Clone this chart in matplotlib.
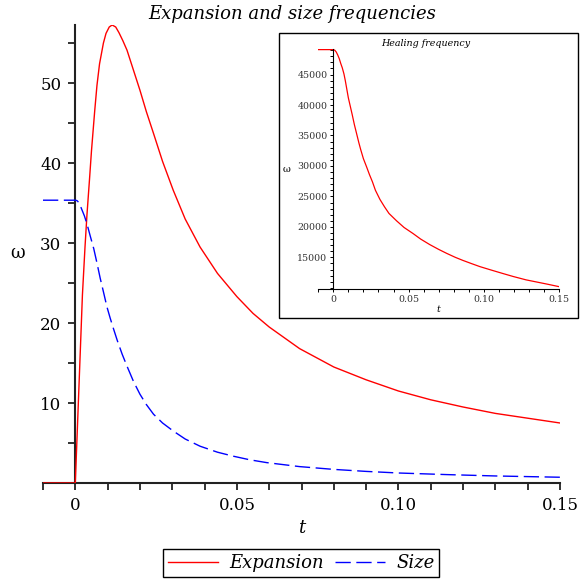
import numpy as np
import matplotlib.pyplot as plt
from matplotlib.patches import Rectangle
from matplotlib.ticker import MultipleLocator, FixedLocator

# expansion frequency (zero before t=0)
t_exp = [-0.01, 0.0, 0.0022, 0.003, 0.0036, 0.0044, 0.005, 0.006, 0.0067, 0.0075,
         0.0087, 0.0095, 0.0105, 0.0114, 0.0125, 0.0135, 0.0147, 0.016, 0.018, 0.020,
         0.022, 0.0242, 0.027, 0.0303, 0.034, 0.0386, 0.044, 0.05, 0.055, 0.060,
         0.0694, 0.080, 0.090, 0.100, 0.110, 0.120, 0.130, 0.140, 0.150]
w_exp = [0.0, 0.0, 23.5, 29.5, 33.5, 38.0, 41.5, 46.5, 49.7, 52.4,
         55.0, 56.2, 57.0, 57.25, 57.0, 56.3, 55.3, 54.1, 51.6, 49.1,
         46.4, 43.7, 40.2, 36.6, 33.0, 29.5, 26.2, 23.3, 21.2, 19.5,
         16.8, 14.5, 12.9, 11.5, 10.4, 9.5, 8.7, 8.1, 7.5]

# size frequency (constant before t=0)
t_size = [-0.01, 0.0, 0.0005, 0.001, 0.0015, 0.002, 0.0028, 0.0036, 0.0046, 0.0057,
          0.0067, 0.0077, 0.0087, 0.0098, 0.0108, 0.0118, 0.013, 0.0145, 0.016, 0.018,
          0.020, 0.022, 0.0242, 0.027, 0.0303, 0.034, 0.0386, 0.044, 0.0489, 0.054,
          0.0592, 0.0694, 0.08, 0.09, 0.10, 0.115, 0.13, 0.15]
w_size = [35.35, 35.35, 35.3, 35.1, 34.7, 34.2, 33.4, 32.4, 30.9, 29.3,
          27.5, 25.6, 23.9, 22.0, 20.6, 19.3, 17.8, 16.1, 14.6, 12.7,
          11.1, 9.8, 8.6, 7.5, 6.5, 5.5, 4.6, 3.85, 3.35, 2.9,
          2.55, 2.05, 1.7, 1.45, 1.25, 1.05, 0.88, 0.72]

# healing frequency (inset)
t_heal = [-0.01, 0.0, 0.001, 0.002, 0.003, 0.004, 0.005, 0.006, 0.0071, 0.008,
          0.009, 0.010, 0.0113, 0.0126, 0.014, 0.0155, 0.017, 0.0182, 0.020, 0.0222,
          0.024, 0.026, 0.028, 0.031, 0.034, 0.037, 0.042, 0.047, 0.053, 0.058,
          0.064, 0.070, 0.0753, 0.081, 0.086, 0.092, 0.0974, 0.105, 0.1125, 0.1195,
          0.128, 0.135, 0.142, 0.15]
w_heal = [49100, 49100, 49000, 48700, 48200, 47600, 46800, 46100, 45100, 44000,
          42600, 41200, 39800, 38400, 36800, 35300, 33800, 32700, 31200, 29800,
          28600, 27400, 26000, 24500, 23300, 22200, 21000, 19900, 18900, 18000,
          17100, 16300, 15650, 15000, 14500, 13950, 13470, 12900, 12350, 11850,
          11300, 10950, 10600, 10180]

W, H = 581, 580
serif = "DejaVu Serif"
axis_col = "#222222"

fig = plt.figure(figsize=(W/100, H/100), dpi=100)
plt.rcParams['font.family'] = serif

def fx(px):
    return px / W

def fy(py):
    return 1 - py / H

#main axes, crossing at the origin
ax = fig.add_axes([fx(43), fy(483), fx(560-43), (483-25)/H])
ax.plot(t_exp, w_exp, color="#ff0000", lw=1.0, label="Expansion", zorder=3)
ax.plot(t_size, w_size, color="#0000ff", lw=1.0, dashes=(11, 4), label="Size", zorder=3)
ax.set_xlim(-0.01, 0.15)
ax.set_ylim(0, 57.25)
for s in ["top", "right"]:
    ax.spines[s].set_visible(False)
ax.spines["left"].set_position(("data", 0))
ax.spines["bottom"].set_position(("data", 0))
for s in ["left", "bottom"]:
    ax.spines[s].set_linewidth(1.5)
    ax.spines[s].set_color(axis_col)
ax.xaxis.set_major_locator(FixedLocator([0, 0.05, 0.10, 0.15]))
ax.set_xticklabels(["0", "0.05", "0.10", "0.15"])
ax.xaxis.set_minor_locator(MultipleLocator(0.01))
ax.yaxis.set_major_locator(FixedLocator([10, 20, 30, 40, 50]))
ax.yaxis.set_minor_locator(MultipleLocator(5))
ax.tick_params(axis="both", which="both", direction="out", length=5, width=1.3,
               color=axis_col, labelsize=12, pad=5)
ax.set_xlabel("t", style="italic", fontsize=13, labelpad=4)
fig.text(fx(18), fy(253), "ω", fontsize=13, ha="center", va="center")

fig.text(fx(292), fy(14), "Expansion and size frequencies", style="italic",
         fontsize=13, ha="center", va="center")

leg = fig.legend(loc="center", bbox_to_anchor=(fx(301), fy(563)), ncol=2,
                 fancybox=False, edgecolor="black", framealpha=1,
                 prop={"family": serif, "style": "italic", "size": 13},
                 handlelength=2.8, columnspacing=0.6, handletextpad=0.6,
                 borderpad=0.25)
leg.get_frame().set_linewidth(1.0)

#inset with its own frame
fig.patches.append(Rectangle((fx(279), fy(318)), fx(299), (318-33)/H,
                             transform=fig.transFigure, facecolor="white",
                             edgecolor="black", lw=1.0, zorder=5))
ins = fig.add_axes([fx(318.2), fy(289), fx(559.2-318.2), (289-49)/H], zorder=6)
ins.patch.set_alpha(0)
ins.plot(t_heal, w_heal, color="#ff0000", lw=0.9)
ins.set_xlim(-0.01, 0.15)
ins.set_ylim(9800, 49200)
for s in ["top", "right"]:
    ins.spines[s].set_visible(False)
ins.spines["left"].set_position(("data", 0))
for s in ["left", "bottom"]:
    ins.spines[s].set_linewidth(0.8)
    ins.spines[s].set_color("black")
ins.xaxis.set_major_locator(FixedLocator([0, 0.05, 0.10, 0.15]))
ins.set_xticklabels(["0", "0.05", "0.10", "0.15"])
ins.xaxis.set_minor_locator(MultipleLocator(0.01))
ins.yaxis.set_major_locator(FixedLocator([15000, 20000, 25000, 30000, 35000, 40000, 45000]))
ins.yaxis.set_minor_locator(MultipleLocator(1000))
ins.tick_params(axis="both", which="both", direction="out", length=2.2, width=0.7,
                labelsize=6.8, pad=2, labelcolor="#333333")
ins.set_xlabel("t", style="italic", fontsize=6.8, labelpad=1)
fig.text(fx(287), fy(170), "ω", fontsize=7, ha="center", va="center", zorder=7)
fig.text(fx(426), fy(44), "Healing frequency", style="italic", fontsize=6.8,
         ha="center", va="center", zorder=7)

fig.savefig("out.png", dpi=100)
